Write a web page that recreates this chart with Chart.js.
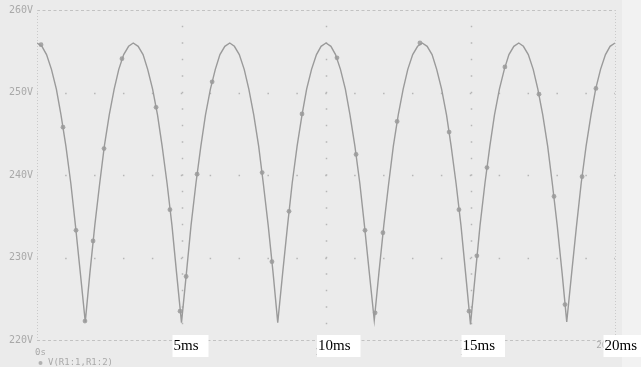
<!DOCTYPE html>
<html>
<head>
<meta charset="utf-8">
<script src="https://cdn.jsdelivr.net/npm/chart.js@4/dist/chart.umd.min.js"></script>
<style>
  html, body { margin: 0; padding: 0; background: #ebebeb; }
  #wrap { width: 641px; height: 367px; position: relative; }
</style>
</head>
<body>
<div id="wrap"><canvas id="c" width="641" height="367"></canvas></div>
<script>
// Sample times (ms) of the rectified output trace
const timeMs = [
  0, 0.17, 0.33, 0.5, 0.67, 0.83,
  1, 1.17, 1.33, 1.5, 1.67, 1.83,
  2, 2.17, 2.33, 2.5, 2.67, 2.83,
  3, 3.17, 3.33, 3.5, 3.67, 3.83,
  4, 4.17, 4.33, 4.5, 4.67, 4.83,
  5, 5.17, 5.33, 5.5, 5.67, 5.83,
  6, 6.17, 6.33, 6.5, 6.67, 6.83,
  7, 7.17, 7.33, 7.5, 7.67, 7.83,
  8, 8.17, 8.33, 8.5, 8.67, 8.83,
  9, 9.17, 9.33, 9.5, 9.67, 9.83,
  10, 10.17, 10.33, 10.5, 10.67, 10.83,
  11, 11.17, 11.33, 11.5, 11.67, 11.83,
  12, 12.17, 12.33, 12.5, 12.67, 12.83,
  13, 13.17, 13.33, 13.5, 13.67, 13.83,
  14, 14.17, 14.33, 14.5, 14.67, 14.83,
  15, 15.17, 15.33, 15.5, 15.67, 15.83,
  16, 16.17, 16.33, 16.5, 16.67, 16.83,
  17, 17.17, 17.33, 17.5, 17.67, 17.83,
  18, 18.17, 18.33, 18.5, 18.67, 18.83,
  19, 19.17, 19.33, 19.5, 19.67, 19.83,
  20
];

// Voltage V(R1:1,R1:2) at each sample time (V)
const voltage = [
  256.0, 255.6, 254.6, 252.8, 250.4, 247.3, 243.5, 239.0, 233.9, 228.1,
  222.2, 228.1, 233.9, 239.0, 243.5, 247.3, 250.4, 252.8, 254.6, 255.6,
  256.0, 255.6, 254.6, 252.8, 250.4, 247.3, 243.5, 239.0, 233.9, 228.1,
  222.1, 228.1, 233.9, 239.0, 243.5, 247.3, 250.4, 252.8, 254.6, 255.6,
  256.0, 255.6, 254.6, 252.8, 250.4, 247.3, 243.5, 239.0, 233.9, 228.1,
  222.1, 228.1, 233.9, 239.0, 243.5, 247.3, 250.4, 252.8, 254.6, 255.6,
  256.0, 255.6, 254.6, 252.8, 250.4, 247.3, 243.5, 239.0, 233.9, 228.1,
  222.4, 228.1, 233.9, 239.0, 243.5, 247.3, 250.4, 252.8, 254.6, 255.6,
  256.0, 255.6, 254.6, 252.8, 250.4, 247.3, 243.5, 239.0, 233.9, 228.1,
  221.9, 228.1, 233.9, 239.0, 243.5, 247.3, 250.4, 252.8, 254.6, 255.6,
  256.0, 255.6, 254.6, 252.8, 250.4, 247.3, 243.5, 239.0, 233.9, 228.1,
  222.2, 228.1, 233.9, 239.0, 243.5, 247.3, 250.4, 252.8, 254.6, 255.6,
  256.0
];

// Trace symbol positions along the curve
const markerTimeMs = [
  0.14, 0.90, 1.35, 1.66, 1.94, 2.32, 2.94, 4.12, 4.60, 4.95,
  5.16, 5.54, 6.06, 7.79, 8.13, 8.72, 9.17, 10.38, 11.04, 11.35,
  11.70, 11.97, 12.46, 13.25, 14.26, 14.60, 14.95, 15.22, 15.57, 16.19,
  17.37, 17.89, 18.27, 18.86, 19.34
];
const markerVoltage = [
  255.8, 245.8, 233.3, 222.3, 232.0, 243.2, 254.1, 248.2, 235.8, 223.5,
  227.7, 240.1, 251.3, 240.3, 229.5, 235.6, 247.4, 254.2, 242.5, 233.3,
  223.3, 233.0, 246.5, 256.0, 245.2, 235.8, 223.5, 230.2, 240.9, 253.1,
  249.8, 237.4, 224.3, 239.8, 250.5
];

const voltTicks = [220, 230, 240, 250, 260];
const timeTicks = [0, 5, 10, 15, 20];
const timeTickLabels = ['0s', '5ms', '10ms', '15ms', '20ms'];
const traceName = 'V(R1:1,R1:2)';

const GRAY_TEXT = '#a9a9a9';
const MONO = '"DejaVu Sans Mono", "Liberation Mono", monospace';

function strokeLine(ctx, x1, y1, x2, y2) {
  ctx.beginPath();
  ctx.moveTo(x1, y1);
  ctx.lineTo(x2, y2);
  ctx.stroke();
}

// Probe-style background, dotted grid and frame
const scopeFrame = {
  id: 'scopeFrame',
  beforeDraw(chart) {
    const { ctx, chartArea: a, scales: { x, y } } = chart;
    ctx.save();
    ctx.fillStyle = '#ebebeb';
    ctx.fillRect(0, 0, chart.width, chart.height);
    ctx.fillStyle = '#f2f2f2';
    ctx.fillRect(a.right + 7, 0, chart.width - a.right - 7, chart.height);

    const msPx = x.getPixelForValue(1) - x.getPixelForValue(0);
    const twoVoltPx = y.getPixelForValue(220) - y.getPixelForValue(222);

    // sparse dots on inner horizontal grid lines
    ctx.strokeStyle = '#b6b6b6';
    ctx.lineWidth = 1.5;
    ctx.setLineDash([1.5, msPx - 1.5]);
    ctx.lineDashOffset = 0.75;
    voltTicks.slice(1, -1).forEach(v => {
      const py = Math.round(y.getPixelForValue(v)) + 0.5;
      strokeLine(ctx, a.left, py, a.right, py);
    });

    // sparse dots on inner vertical grid lines
    ctx.setLineDash([1.5, twoVoltPx - 1.5]);
    timeTicks.slice(1, -1).forEach(t => {
      const px = Math.round(x.getPixelForValue(t)) + 0.5;
      strokeLine(ctx, px, a.top, px, a.bottom);
    });

    // top and bottom frame
    ctx.strokeStyle = '#c2c2c2';
    ctx.lineWidth = 1;
    ctx.setLineDash([3, 2.5]);
    ctx.lineDashOffset = 0;
    [voltTicks[0], voltTicks[voltTicks.length - 1]].forEach(v => {
      const py = Math.round(y.getPixelForValue(v)) + 0.5;
      strokeLine(ctx, a.left, py, a.right, py);
    });

    // left and right frame
    ctx.strokeStyle = '#cacaca';
    ctx.setLineDash([1, 2]);
    [timeTicks[0], timeTicks[timeTicks.length - 1]].forEach(t => {
      const px = Math.round(x.getPixelForValue(t)) + 0.5;
      strokeLine(ctx, px, a.top, px, a.bottom);
    });
    ctx.restore();
  },
  afterDraw(chart) {
    const { ctx, chartArea: a, scales: { x } } = chart;
    ctx.save();
    // small time-axis labels
    ctx.font = '9px ' + MONO;
    ctx.fillStyle = GRAY_TEXT;
    ctx.textBaseline = 'middle';
    timeTicks.forEach((t, i) => {
      const px = x.getPixelForValue(t);
      if (i === 0) { ctx.textAlign = 'left'; ctx.fillText(timeTickLabels[i], px - 2, 353); }
      else if (i === timeTicks.length - 1) { ctx.textAlign = 'right'; ctx.fillText(timeTickLabels[i], px + 3, 346); }
      else { ctx.textAlign = 'center'; ctx.fillText(timeTickLabels[i], px, 353); }
    });

    // trace legend
    ctx.fillStyle = '#b0b0b0';
    ctx.beginPath();
    ctx.arc(40.5, 363, 2, 0, Math.PI * 2);
    ctx.fill();
    ctx.fillStyle = GRAY_TEXT;
    ctx.textAlign = 'left';
    ctx.fillText(traceName, 48, 363);

    // boxed time labels
    ctx.font = '15px "Liberation Serif", "Times New Roman", serif';
    ctx.textBaseline = 'alphabetic';
    timeTicks.slice(1).forEach((t, k) => {
      const label = timeTickLabels[k + 1];
      const w = ctx.measureText(label).width;
      const px = x.getPixelForValue(t);
      const tx = Math.min(px - 8, chart.width - w - 4);
      const boxR = Math.min(tx + w + 10, chart.width);
      ctx.fillStyle = '#ffffff';
      ctx.fillRect(tx - 1, 335, boxR - tx + 1, 22);
      ctx.fillStyle = '#000000';
      ctx.fillText(label, tx, 350);
    });
    ctx.restore();
  }
};

const traceData = timeMs.map((t, i) => ({ x: t, y: voltage[i] }));
const markerData = markerTimeMs.map((t, i) => ({ x: t, y: markerVoltage[i] }));

new Chart(document.getElementById('c'), {
  type: 'line',
  data: {
    datasets: [
      {
        label: traceName,
        data: traceData,
        borderColor: '#9a9a9a',
        borderWidth: 1.4,
        pointRadius: 0,
        tension: 0,
        fill: false
      },
      {
        label: traceName + ' symbols',
        data: markerData,
        showLine: false,
        pointRadius: 2.4,
        pointBackgroundColor: '#a6a6a6',
        pointBorderColor: '#a6a6a6',
        pointBorderWidth: 0
      }
    ]
  },
  options: {
    responsive: false,
    animation: false,
    devicePixelRatio: 1,
    layout: { padding: { top: 9, right: 26, left: 0, bottom: 0 } },
    plugins: { legend: { display: false }, tooltip: { enabled: false } },
    scales: {
      x: {
        type: 'linear',
        min: 0,
        max: 20,
        ticks: { display: false },
        grid: { display: false, drawTicks: false },
        border: { display: false },
        afterFit: s => { s.height = 27; }
      },
      y: {
        type: 'linear',
        min: 220,
        max: 260,
        afterBuildTicks: s => { s.ticks = voltTicks.map(v => ({ value: v })); },
        ticks: {
          callback: v => v + 'V',
          color: GRAY_TEXT,
          font: { family: MONO, size: 10 },
          padding: 4
        },
        grid: { display: false, drawTicks: false },
        border: { display: false },
        afterFit: s => { s.width = 37; }
      }
    }
  },
  plugins: [scopeFrame]
});
</script>
</body>
</html>
